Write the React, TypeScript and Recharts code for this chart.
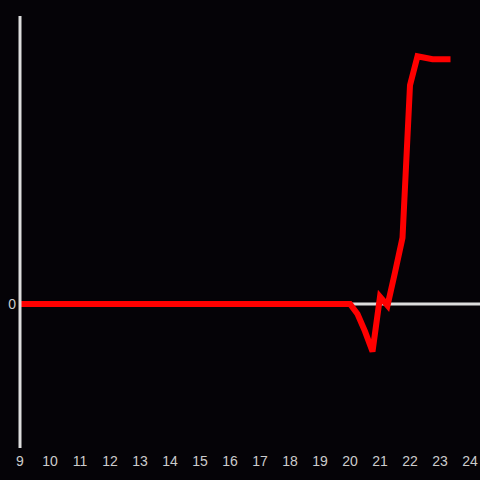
import { LineChart, Line, XAxis, YAxis, ReferenceLine } from 'recharts';

const hours = [9, 10, 11, 12, 13, 14, 15, 16, 17, 18, 19, 20, 20.25, 20.5, 20.75, 21, 21.25, 21.5, 21.75, 22, 22.25, 22.5, 22.75, 23, 23.25];
const values = [0, 0, 0, 0, 0, 0, 0, 0, 0, 0, 0, 0, -0.07, -0.19, -0.33, 0.05, -0.01, 0.22, 0.46, 1.52, 1.72, 1.71, 1.7, 1.7, 1.7];
const xTicks = [9, 10, 11, 12, 13, 14, 15, 16, 17, 18, 19, 20, 21, 22, 23, 24];
const yTicks = [0];

const data = hours.map((h, i) => ({ hour: h, value: values[i] }));

const axisColor = '#dddddd';
const labelStyle = { fill: '#cccccc', fontSize: 14, fontFamily: 'Liberation Sans, Arial, sans-serif' };

export default function App() {
  return (
    <div style={{ position: 'absolute', left: 0, top: 0, width: 480, height: 480, background: '#050307' }}>
      <LineChart width={480} height={480} data={data} margin={{ top: 16, right: 0, left: 0, bottom: 0 }}>
        <XAxis
          dataKey="hour"
          type="number"
          domain={[9, 24.333]}
          ticks={xTicks}
          allowDataOverflow
          axisLine={false}
          tickLine={false}
          height={32}
          tick={labelStyle}
        />
        <YAxis
          type="number"
          domain={[-1, 2]}
          ticks={yTicks}
          width={20}
          axisLine={{ stroke: axisColor, strokeWidth: 3 }}
          tickLine={false}
          tickSize={0}
          tickMargin={4}
          tick={labelStyle}
        />
        <ReferenceLine y={0} stroke={axisColor} strokeWidth={3} />
        <Line
          type="linear"
          dataKey="value"
          stroke="#ff0000"
          strokeWidth={6}
          strokeLinecap="square"
          strokeLinejoin="miter"
          dot={false}
          activeDot={false}
          isAnimationActive={false}
        />
      </LineChart>
    </div>
  );
}
